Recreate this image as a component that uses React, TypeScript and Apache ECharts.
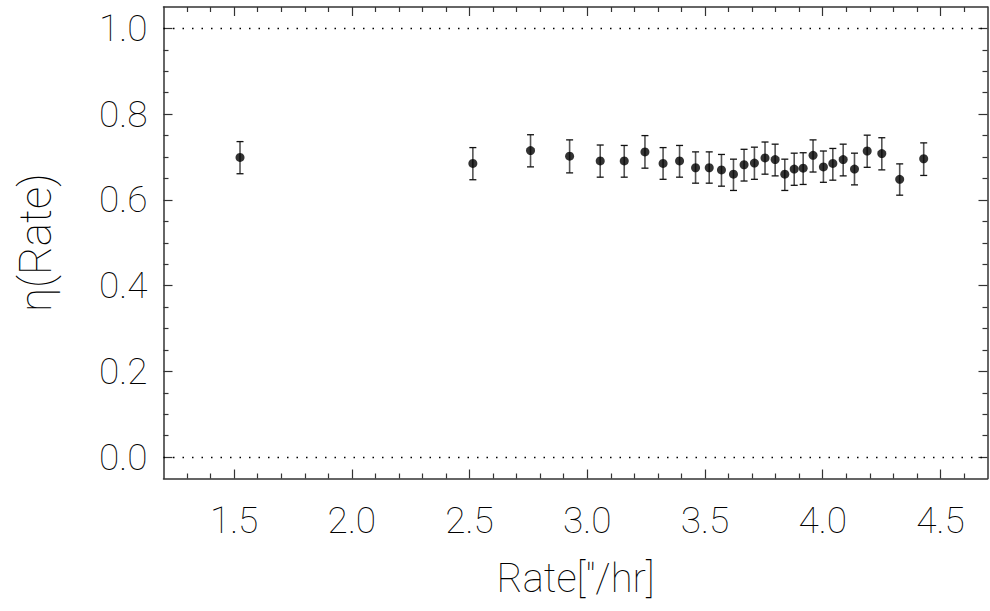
import React, { useEffect, useRef } from "react";
import * as echarts from "echarts";

const rates = [1.525, 2.514, 2.759, 2.925, 3.055, 3.157, 3.245, 3.322, 3.392, 3.46, 3.518, 3.57, 3.621, 3.666, 3.71, 3.755, 3.798, 3.839, 3.879, 3.917, 3.959, 4.003, 4.043, 4.087, 4.135, 4.189, 4.251, 4.327, 4.429];
const eta = [0.699, 0.685, 0.715, 0.702, 0.691, 0.691, 0.712, 0.685, 0.691, 0.675, 0.675, 0.67, 0.66, 0.682, 0.686, 0.698, 0.694, 0.66, 0.672, 0.674, 0.704, 0.677, 0.685, 0.694, 0.672, 0.714, 0.708, 0.648, 0.696];
const etaHigh = [0.736, 0.722, 0.752, 0.74, 0.728, 0.727, 0.75, 0.722, 0.727, 0.712, 0.712, 0.706, 0.695, 0.718, 0.723, 0.735, 0.73, 0.695, 0.709, 0.71, 0.74, 0.714, 0.72, 0.73, 0.709, 0.751, 0.745, 0.684, 0.733];
const etaLow = [0.661, 0.647, 0.677, 0.663, 0.653, 0.653, 0.674, 0.648, 0.653, 0.639, 0.639, 0.632, 0.622, 0.644, 0.648, 0.66, 0.656, 0.622, 0.634, 0.636, 0.665, 0.641, 0.646, 0.656, 0.635, 0.676, 0.67, 0.611, 0.657];

const xMajorTicks = [1.5, 2.0, 2.5, 3.0, 3.5, 4.0, 4.5];
const xMinorTicks = [1.3, 1.4, 1.6, 1.7, 1.8, 1.9, 2.1, 2.2, 2.3, 2.4, 2.6, 2.7, 2.8, 2.9, 3.1, 3.2, 3.3, 3.4, 3.6, 3.7, 3.8, 3.9, 4.1, 4.2, 4.3, 4.4, 4.6];
const yMajorTicks = [0.0, 0.2, 0.4, 0.6, 0.8, 1.0];
const yMinorTicks = [0.05, 0.1, 0.15, 0.25, 0.3, 0.35, 0.45, 0.5, 0.55, 0.65, 0.7, 0.75, 0.85, 0.9, 0.95];
const refLines = [0, 1];

const FONT = "Roboto, sans-serif";
const WEIGHT = 100;
const AXIS_COLOR = "#333";
const LABEL_COLOR = "#000";

export default function App() {
  const ref = useRef<HTMLDivElement>(null);
  useEffect(() => {
    if (!ref.current) return;
    const chart = echarts.init(ref.current, null, { renderer: "svg" });
    const xRange = { min: 1.2, max: 4.7 };
    const yRange = { min: -0.05, max: 1.05 };
    const mkX = (pos: string, vals: number[], len: number, labels: boolean, line: boolean, extra: any = {}) => ({
      type: "value",
      position: pos,
      ...xRange,
      axisLine: { show: line, onZero: false, lineStyle: { color: AXIS_COLOR, width: 1.5 } },
      axisTick: { show: true, inside: true, length: len, customValues: vals, lineStyle: { color: AXIS_COLOR, width: 1.2 } },
      axisLabel: labels
        ? { show: true, customValues: vals, formatter: (v: number) => v.toFixed(1), fontFamily: FONT, fontWeight: WEIGHT, fontSize: 37, color: LABEL_COLOR, margin: 23 }
        : { show: false },
      splitLine: { show: false },
      ...extra,
    });
    const mkY = (pos: string, vals: number[], len: number, labels: boolean, line: boolean, extra: any = {}) => ({
      type: "value",
      position: pos,
      ...yRange,
      axisLine: { show: line, onZero: false, lineStyle: { color: AXIS_COLOR, width: 1.5 } },
      axisTick: { show: true, inside: true, length: len, customValues: vals, lineStyle: { color: AXIS_COLOR, width: 1.2 } },
      axisLabel: labels
        ? { show: true, customValues: vals, formatter: (v: number) => v.toFixed(1), fontFamily: FONT, fontWeight: WEIGHT, fontSize: 37, color: LABEL_COLOR, margin: 16 }
        : { show: false },
      splitLine: { show: false },
      ...extra,
    });

    const errData = rates.map((x, i) => [x, eta[i], etaLow[i], etaHigh[i]]);
    const pts = rates.map((x, i) => [x, eta[i]]);

    chart.setOption({
      animation: false,
      backgroundColor: "#fff",
      grid: { left: 163.5, top: 7, width: 824, height: 471.5, containLabel: false },
      xAxis: [
        mkX("bottom", xMajorTicks, 9, true, true, {
          name: 'Rate["/hr]',
          nameLocation: "middle",
          nameGap: 80,
          nameTextStyle: { fontFamily: FONT, fontWeight: WEIGHT, fontSize: 40, color: LABEL_COLOR },
        }),
        mkX("bottom", xMinorTicks, 5, false, false),
        mkX("top", xMajorTicks, 9, false, true),
        mkX("top", xMinorTicks, 5, false, false),
      ],
      yAxis: [
        mkY("left", yMajorTicks, 9, true, true, {
          name: "η(Rate)",
          nameLocation: "middle",
          nameGap: 106,
          nameRotate: 90,
          nameTextStyle: { fontFamily: FONT, fontWeight: WEIGHT, fontSize: 44, color: LABEL_COLOR },
        }),
        mkY("left", yMinorTicks, 5, false, false),
        mkY("right", yMajorTicks, 9, false, true),
        mkY("right", yMinorTicks, 5, false, false),
      ],
      series: [
        {
          type: "custom",
          xAxisIndex: 0,
          yAxisIndex: 0,
          data: errData,
          silent: true,
          renderItem: (params: any, api: any) => {
            const x = api.value(0);
            const lo = api.coord([x, api.value(2)]);
            const hi = api.coord([x, api.value(3)]);
            const cap = 3.5;
            const style = { stroke: "#111", lineWidth: 1.3 };
            return {
              type: "group",
              children: [
                { type: "line", shape: { x1: lo[0], y1: lo[1], x2: hi[0], y2: hi[1] }, style: { stroke: "#555", lineWidth: 1.6 } },
                { type: "line", shape: { x1: lo[0] - cap, y1: lo[1], x2: lo[0] + cap, y2: lo[1] }, style },
                { type: "line", shape: { x1: hi[0] - cap, y1: hi[1], x2: hi[0] + cap, y2: hi[1] }, style },
              ],
            };
          },
        },
        {
          type: "scatter",
          xAxisIndex: 0,
          yAxisIndex: 0,
          data: pts,
          symbol: "circle",
          symbolSize: 9,
          itemStyle: { color: "#000" },
          silent: true,
          markLine: {
            silent: true,
            symbol: "none",
            label: { show: false },
            lineStyle: { type: [1.5, 8], color: "#000", width: 1.3 },
            data: refLines.map((v) => ({ yAxis: v })),
          },
        },
      ],
    });
    return () => chart.dispose();
  }, []);
  return <div ref={ref} style={{ width: 990, height: 611, position: "absolute", left: 0, top: 0 }} />;
}
